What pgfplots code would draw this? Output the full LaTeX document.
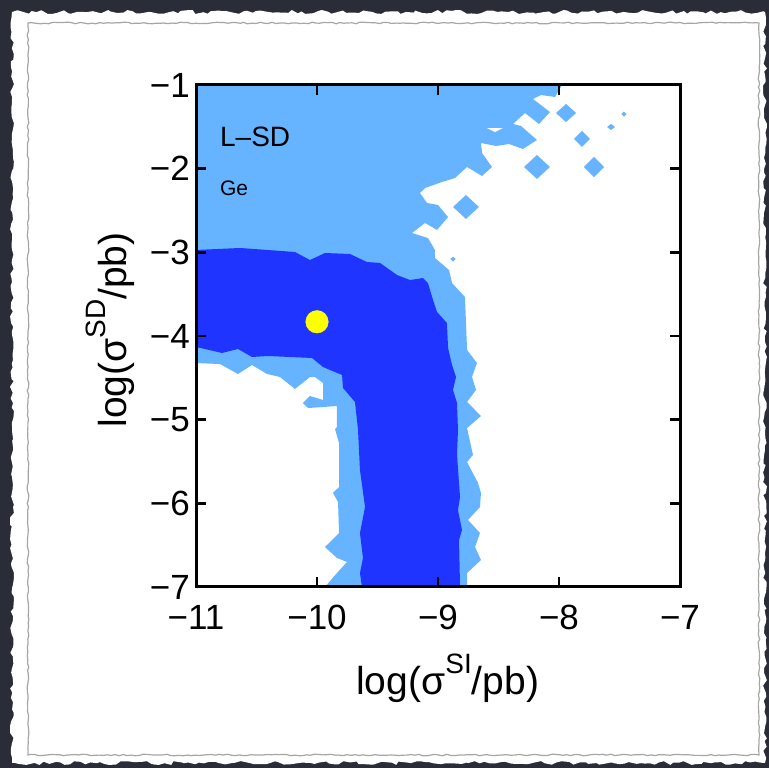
\documentclass[border=0pt]{standalone}
\usepackage{fontspec}
\setmainfont{Liberation Sans}
\usepackage{pgfplots}
\pgfplotsset{compat=1.18}
\usetikzlibrary{decorations.pathmorphing}

\definecolor{slate}{RGB}{42,45,56}
\definecolor{regionlight}{RGB}{102,179,255}
\definecolor{regiondark}{RGB}{31,53,255}
\definecolor{bestfit}{RGB}{255,255,0}

% raised index in the axis labels
\newcommand{\idx}[1]{\raisebox{0.55em}{\fontsize{28}{30}\selectfont #1}}

\begin{document}
\begin{tikzpicture}[x=1pt,y=1pt]
% dark backdrop with a torn sheet of paper
\fill[slate] (0,0) rectangle (769,768);
\fill[white, decorate, decoration={random steps, segment length=5pt, amplitude=2pt}]
  (12,5) rectangle (765,756);
\draw[black!35, line width=1.2pt, decorate, decoration={random steps, segment length=4pt, amplitude=0.8pt}]
  (28,13) rectangle (759,745);

\begin{axis}[
  at={(196pt,181pt)}, anchor=south west,
  scale only axis, width=484pt, height=502pt,
  xmin=-11, xmax=-7, ymin=-7, ymax=-1,
  xtick={-11,-10,-9,-8,-7},
  xticklabels={−11,−10,−9,−8,−7},
  ytick={-7,-6,-5,-4,-3,-2,-1},
  yticklabels={−7,−6,−5,−4,−3,−2,−1},
  tick align=inside,
  major tick length=10pt,
  every tick/.style={black, line width=2.5pt},
  axis line style={line width=3pt},
  axis on top,
  ticklabel style={font=\fontsize{35}{38}\selectfont},
  xticklabel style={anchor=base, yshift=-43pt},
  yticklabel style={anchor=east, inner sep=0pt, xshift=-6pt},
  xlabel={log(σ\idx{SI}/pb)},
  ylabel={log(σ\idx{SD}/pb)},
  label style={font=\fontsize{39}{42}\selectfont},
  xlabel style={at={(axis description cs:0.52,-0.215)}, anchor=base},
  ylabel style={at={(axis description cs:-0.1426,0.512)}, anchor=base},
]

% 2-sigma region
\addplot[fill=regionlight, draw=none] coordinates {
  (-11.000,-1.000) (-7.975,-1.000) (-8.033,-1.143) (-8.149,-1.120)
  (-8.215,-1.167) (-8.074,-1.323) (-8.165,-1.466) (-8.281,-1.335)
  (-8.380,-1.466) (-8.314,-1.490) (-8.182,-1.657) (-8.298,-1.765)
  (-8.413,-1.705) (-8.521,-1.729) (-8.645,-1.693) (-8.636,-1.813)
  (-8.554,-1.980) (-8.636,-2.088) (-8.760,-1.980) (-8.860,-2.112)
  (-8.967,-2.159) (-9.107,-2.231) (-9.149,-2.291) (-9.091,-2.410)
  (-9.000,-2.434) (-8.917,-2.578) (-9.008,-2.733) (-9.107,-2.649)
  (-9.215,-2.769) (-9.083,-2.829) (-9.025,-2.972) (-9.025,-3.068)
  (-8.909,-3.211) (-8.884,-3.367) (-8.777,-3.534) (-8.760,-4.167)
  (-8.678,-4.323) (-8.719,-4.490) (-8.686,-4.645) (-8.760,-4.789)
  (-8.645,-4.956) (-8.760,-5.100) (-8.711,-5.422) (-8.760,-5.506)
  (-8.669,-5.757) (-8.645,-5.876) (-8.653,-6.044) (-8.752,-6.199)
  (-8.653,-6.355) (-8.694,-6.522) (-8.645,-6.677) (-8.760,-6.833)
  (-8.760,-7.000) (-9.934,-7.000) (-9.835,-6.833) (-9.752,-6.701)
  (-9.835,-6.653) (-9.934,-6.522) (-9.818,-6.355) (-9.826,-5.984)
  (-9.868,-5.876) (-9.818,-5.805) (-9.818,-5.279) (-9.851,-5.112)
  (-9.835,-5.088) (-9.835,-4.837) (-10.074,-4.861) (-10.116,-4.801)
  (-10.058,-4.717) (-9.950,-4.765) (-9.950,-4.562) (-10.017,-4.490)
  (-10.058,-4.490) (-10.182,-4.633) (-10.306,-4.490) (-10.413,-4.454)
  (-10.537,-4.347) (-10.653,-4.454) (-10.802,-4.335) (-11.000,-4.323)
} -- cycle;

% small gap inside the outer region
\addplot[fill=white, draw=none] coordinates {
  (-8.595,-1.514) (-8.463,-1.514) (-8.529,-1.562)
} -- cycle;

% isolated patches of the outer region
\addplot[fill=regionlight, draw=none] coordinates {
  (-8.025,-1.335) (-7.942,-1.227) (-7.859,-1.335) (-7.942,-1.443)} -- cycle;
\addplot[fill=regionlight, draw=none] coordinates {
  (-7.876,-1.645) (-7.810,-1.549) (-7.744,-1.645) (-7.810,-1.741)} -- cycle;
\addplot[fill=regionlight, draw=none] coordinates {
  (-7.794,-1.980) (-7.711,-1.860) (-7.628,-1.980) (-7.711,-2.100)} -- cycle;
\addplot[fill=regionlight, draw=none] coordinates {
  (-8.289,-1.980) (-8.182,-1.837) (-8.075,-1.980) (-8.182,-2.123)} -- cycle;
\addplot[fill=regionlight, draw=none] coordinates {
  (-8.876,-2.458) (-8.769,-2.315) (-8.662,-2.458) (-8.769,-2.601)} -- cycle;
\addplot[fill=regionlight, draw=none] coordinates {
  (-7.603,-1.502) (-7.570,-1.466) (-7.537,-1.502) (-7.570,-1.538)} -- cycle;
\addplot[fill=regionlight, draw=none] coordinates {
  (-7.484,-1.347) (-7.463,-1.317) (-7.442,-1.347) (-7.463,-1.377)} -- cycle;
\addplot[fill=regionlight, draw=none] coordinates {
  (-8.897,-3.080) (-8.876,-3.050) (-8.855,-3.080) (-8.876,-3.110)} -- cycle;

% 1-sigma region
\addplot[fill=regiondark, draw=none] coordinates {
  (-11.000,-2.972) (-10.636,-2.948) (-10.182,-2.996) (-10.058,-3.092)
  (-9.934,-3.008) (-9.727,-3.020) (-9.587,-3.116) (-9.479,-3.127)
  (-9.339,-3.271) (-9.231,-3.331) (-9.124,-3.307) (-9.083,-3.367)
  (-9.041,-3.570) (-9.008,-3.713) (-8.926,-3.845) (-8.917,-4.143)
  (-8.884,-4.347) (-8.851,-4.490) (-8.876,-4.645) (-8.843,-4.801)
  (-8.835,-5.123) (-8.843,-5.422) (-8.818,-5.924) (-8.835,-6.080)
  (-8.802,-6.319) (-8.826,-6.438) (-8.818,-7.000) (-9.628,-7.000)
  (-9.645,-6.833) (-9.620,-6.653) (-9.645,-6.355) (-9.603,-6.044)
  (-9.645,-5.602) (-9.661,-5.123) (-9.686,-4.789) (-9.785,-4.621)
  (-9.793,-4.466) (-9.950,-4.371) (-10.041,-4.263) (-10.405,-4.239)
  (-10.537,-4.251) (-10.653,-4.155) (-10.785,-4.203) (-11.000,-4.131)
} -- cycle;

% benchmark point
\addplot[only marks, mark=*, mark size=11.3pt, color=bestfit] coordinates {(-10.0,-3.83)};

\node[anchor=base west, font=\fontsize{28}{30}\selectfont, inner sep=0pt] at (axis cs:-10.802,-1.741) {L–SD};
\node[anchor=base west, font=\fontsize{21}{23}\selectfont, inner sep=0pt] at (axis cs:-10.802,-2.315) {Ge};
\end{axis}
\end{tikzpicture}
\end{document}
